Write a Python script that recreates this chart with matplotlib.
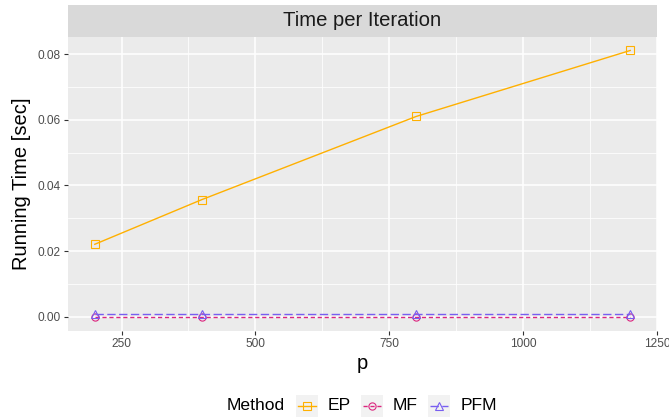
import matplotlib
matplotlib.use("Agg")
import matplotlib.pyplot as plt
from matplotlib.patches import Rectangle
from matplotlib.lines import Line2D
from matplotlib.ticker import MultipleLocator

plt.rcParams['font.family'] = ['Liberation Sans', 'DejaVu Sans']

p_values = [200, 400, 800, 1200]
methods = ["EP", "MF", "PFM"]
times = {
    "EP": [0.0221, 0.0357, 0.0610, 0.0811],
    "MF": [0.0001, 0.0001, 0.0001, 0.0001],
    "PFM": [0.0010, 0.0010, 0.0010, 0.0010],
}
colors = {"EP": "#FFB000", "MF": "#DC267F", "PFM": "#785EF0"}
linestyles = {"EP": "-", "MF": (0, (3, 2)), "PFM": (0, (6, 2.5))}
markers = {"EP": "s", "MF": "o", "PFM": "^"}
x_ticks = [250, 500, 750, 1000, 1250]
y_ticks = [0.00, 0.02, 0.04, 0.06, 0.08]
y_labels = ["0.00", "0.02", "0.04", "0.06", "0.08"]

W, H = 669, 417
fig = plt.figure(figsize=(W / 100, H / 100), dpi=100)

def px(l, t, r, b):
    return [l / W, 1 - b / H, (r - l) / W, (b - t) / H]

pl, pr, pt, pb = 68, 657, 37, 331
ax = fig.add_axes(px(pl, pt, pr, pb))
ax.set_facecolor("#EBEBEB")
for s in ax.spines.values():
    s.set_visible(False)

for m in methods:
    ax.plot(p_values, times[m], color=colors[m], linestyle=linestyles[m],
            linewidth=1.0, marker=markers[m], markersize=5.2,
            markerfacecolor="none", markeredgecolor=colors[m],
            markeredgewidth=0.8, zorder=3)

ax.set_xlim(150, 1250)
ax.set_ylim(-0.0043, 0.0852)
ax.set_xticks(x_ticks)
ax.set_xticklabels([str(v) for v in x_ticks])
ax.set_yticks(y_ticks)
ax.set_yticklabels(y_labels)
ax.xaxis.set_minor_locator(MultipleLocator(125))
ax.yaxis.set_minor_locator(MultipleLocator(0.01))
ax.grid(which="major", color="white", linewidth=1.1)
ax.grid(which="minor", color="white", linewidth=0.55)
ax.set_axisbelow(True)
ax.tick_params(which="major", length=3, width=0.8, color="#333333",
               labelsize=8.6, labelcolor="#4D4D4D", pad=2)
ax.tick_params(which="minor", length=0)
ax.set_xlabel("p", fontsize=14.5, labelpad=3)
ax.set_ylabel("Running Time [sec]", fontsize=14.5, labelpad=5)

# strip
sax = fig.add_axes(px(pl, 5, pr, pt))
sax.set_facecolor("#D9D9D9")
sax.set_xticks([]); sax.set_yticks([])
for s in sax.spines.values():
    s.set_visible(False)
sax.text(0.5, 0.5, "Time per Iteration", ha="center", va="center",
         fontsize=14.6, color="#1A1A1A", transform=sax.transAxes)

# legend
def fx(x): return x / W
def fy(y): return 1 - y / H
cy = 406
fig.text(fx(227), fy(cy), "Method", fontsize=12.6, va="center", ha="left")
key_x = {"EP": 296, "MF": 361, "PFM": 428}
lab_x = {"EP": 328, "MF": 393, "PFM": 461}
for m in methods:
    kx = key_x[m]
    fig.patches.append(Rectangle((fx(kx), fy(cy + 11)), 22 / W, 22 / H,
                                 transform=fig.transFigure, facecolor="#F2F2F2",
                                 edgecolor="none"))
    fig.lines.append(Line2D([fx(kx + 2), fx(kx + 20)], [fy(cy), fy(cy)],
                            transform=fig.transFigure, color=colors[m],
                            linestyle=linestyles[m], linewidth=1.0))
    fig.lines.append(Line2D([fx(kx + 11)], [fy(cy)], transform=fig.transFigure,
                            marker=markers[m], markersize=5.2, markerfacecolor="none",
                            markeredgecolor=colors[m], markeredgewidth=0.8,
                            linestyle="none"))
    fig.text(fx(lab_x[m]), fy(cy), m, fontsize=12.6, va="center", ha="left")

fig.savefig("out.png", dpi=100, facecolor="white")
